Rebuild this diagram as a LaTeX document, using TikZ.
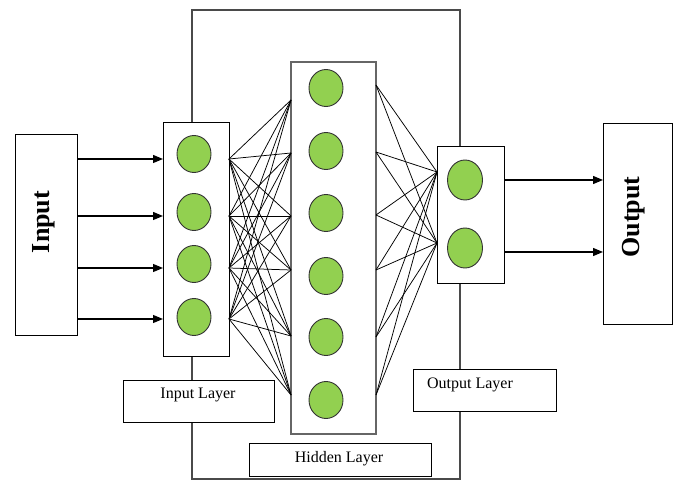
\documentclass[tikz,border=0pt]{standalone}
\usepackage{fontspec}
\setmainfont{Liberation Serif}
\usetikzlibrary{arrows.meta,shapes.geometric}
\definecolor{cellgreen}{HTML}{92D050}
\definecolor{framegray}{HTML}{4A4A4A}
\tikzset{
  box/.style={draw=black, fill=white, line width=0.9pt, inner sep=0pt, outer sep=0pt},
  hidbox/.style={draw=black!60, fill=white, line width=1.5pt, inner sep=0pt, outer sep=0pt},
  cell/.style={ellipse, draw=black!80, fill=cellgreen, line width=0.9pt,
               minimum width=34pt, minimum height=37pt, inner sep=0pt},
  link/.style={line width=0.75pt},
  feed/.style={line width=1.2pt, -{Triangle[length=10pt,width=8pt]}},
  iolabel/.style={font=\bfseries\fontsize{26}{26}\selectfont, rotate=90, inner sep=0pt},
  laytext/.style={font=\fontsize{16}{16}\selectfont, inner sep=0pt}
}
\begin{document}
\begin{tikzpicture}[x=1pt,y=-1pt]
\useasboundingbox (0,0) rectangle (675,481);

% outer frame around the three layers
\node[draw=framegray, line width=1.1pt, minimum width=268pt, minimum height=469pt,
      inner sep=0pt] (frame) at (326,244.5) {};

% input and output blocks
\node[box, minimum width=62pt, minimum height=201pt] (in) at (46,234.5) {};
\node[iolabel] (intext) at (44,222) {Input};
\node[box, minimum width=69pt, minimum height=201pt] (out) at (637.5,223.5) {};
\node[iolabel] (outtext) at (634,217) {Output};

% layer containers
\node[box, minimum width=66pt, minimum height=234pt] (inL) at (196,239) {};
\node[hidbox, minimum width=85pt, minimum height=372pt] (hid) at (333.5,248) {};
\node[box, minimum width=67pt, minimum height=137pt] (outL) at (470.5,214.5) {};

% neurons
\foreach \y [count=\i] in {154,212,264,317}
  \node[cell] (i\i) at (194,\y) {};
\foreach \y [count=\i] in {88,151,213,276,337,400}
  \node[cell] (h\i) at (326,\y) {};
\foreach \y [count=\i] in {180,248}
  \node[cell, minimum width=35pt, minimum height=40pt] (o\i) at (465,\y) {};

% ports on the container edges
\foreach \y [count=\i] in {159,216,268,319} {
  \coordinate (ia\i) at (in.east |- 0,\y);
  \coordinate (ib\i) at (inL.west |- 0,\y);
  \coordinate (ic\i) at (inL.east |- 0,\y);
}
\foreach \y [count=\i] in {100,153,216,270,336,395}
  \coordinate (hl\i) at (hid.west |- 0,\y);
\foreach \y [count=\i] in {85,152,215,270,337,395}
  \coordinate (hr\i) at (hid.east |- 0,\y);
\foreach \y [count=\i] in {172,243}
  \coordinate (ol\i) at (outL.west |- 0,\y);
\foreach \y [count=\i] in {180,252} {
  \coordinate (oa\i) at (outL.east |- 0,\y);
  \coordinate (ob\i) at (out.west |- 0,\y);
}

% input arrows
\foreach \i in {1,...,4}
  \draw[feed] (ia\i) -- (ib\i);

% full connections
\foreach \i in {1,...,4}
  \foreach \j in {1,...,6}
    \draw[link] (ic\i) -- (hl\j);
\foreach \j in {1,...,6}
  \foreach \k in {1,2}
    \draw[link] (hr\j) -- (ol\k);

% output arrows
\foreach \k in {1,2}
  \draw[feed] (oa\k) -- (ob\k);

% layer captions
\node[box, minimum width=151pt, minimum height=42pt] (capin) at (198.5,401) {};
\node[laytext] (capintext) at (198,395) {Input Layer};
\node[box, minimum width=182pt, minimum height=33pt] (caphid) at (340,459.5) {};
\node[laytext] (caphidtext) at (339,459) {Hidden Layer};
\node[box, minimum width=143pt, minimum height=42pt] (capout) at (484.5,390) {};
\node[laytext] (capouttext) at (470,385) {Output Layer};
\end{tikzpicture}
\end{document}
